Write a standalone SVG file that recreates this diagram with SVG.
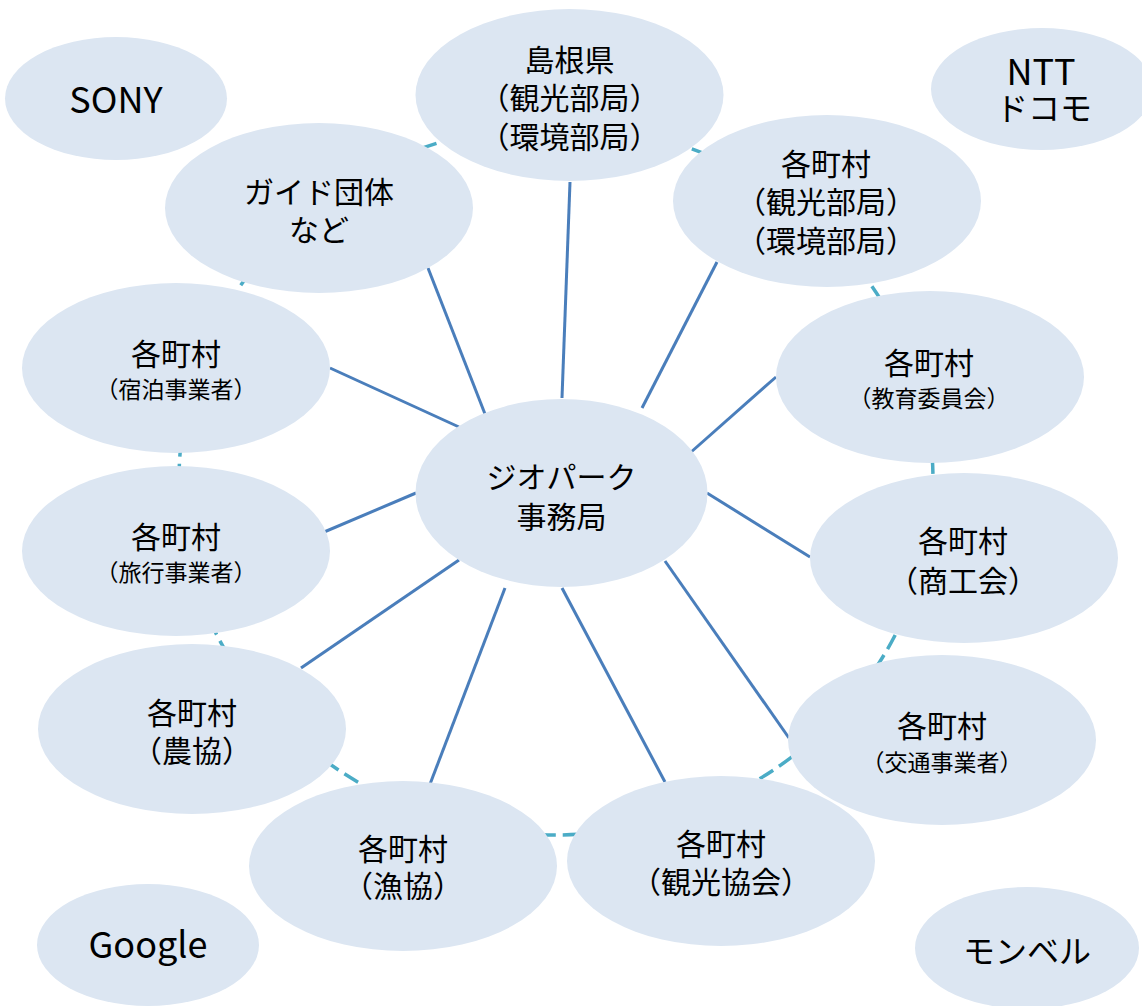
<svg xmlns="http://www.w3.org/2000/svg" width="1142" height="1006" viewBox="0 0 1142 1006">
<style>
.n{fill:#dce6f2;stroke:none}
.t{font-family:"Noto Sans CJK JP","Noto Sans",sans-serif;font-size:30px;fill:#000;text-anchor:middle}
.s{font-size:23px}
.l{font-size:36px}
.k{font-size:32px}
.ln{stroke:#4a7ebb;stroke-width:3;fill:none}
.ring{stroke:#4bacc6;stroke-width:3.5;fill:none;stroke-dasharray:16 7}
</style>
<rect width="1142" height="1006" fill="#fff"/>
<g id="connectors">
<ellipse class="ring" cx="556" cy="480" rx="377" ry="355"/>
<line class="ln" x1="562" y1="398" x2="570" y2="182"/>
<line class="ln" x1="485" y1="414" x2="428" y2="268"/>
<line class="ln" x1="459" y1="427" x2="330" y2="368"/>
<line class="ln" x1="642" y1="408" x2="717" y2="262"/>
<line class="ln" x1="690" y1="453" x2="776" y2="377"/>
<line class="ln" x1="416" y1="493" x2="310" y2="538"/>
<line class="ln" x1="707" y1="493" x2="810" y2="557"/>
<line class="ln" x1="459" y1="560" x2="301" y2="668"/>
<line class="ln" x1="505" y1="588" x2="427" y2="792"/>
<line class="ln" x1="562" y1="588" x2="665" y2="782"/>
<line class="ln" x1="665" y1="561" x2="789" y2="738"/>
</g>
<g id="sony"><ellipse class="n" cx="116" cy="98.5" rx="111" ry="61.5"/><text class="t l" x="116" y="113">SONY</text></g>
<g id="ntt"><ellipse class="n" cx="1042" cy="89" rx="111" ry="61"/><text class="t l" x="1041" y="85">NTT</text><text class="t k" x="1044" y="120">ドコモ</text></g>
<g id="google"><ellipse class="n" cx="148" cy="945" rx="111" ry="61"/><text class="t l" x="148" y="958">Google</text></g>
<g id="montbell"><ellipse class="n" cx="1027" cy="948" rx="112" ry="61"/><text class="t k" x="1027" y="963">モンベル</text></g>
<g id="shimane"><ellipse class="n" cx="569.5" cy="95" rx="154" ry="86"/><text class="t" x="569.5" y="71">島根県</text><text class="t" x="569.5" y="109">（観光部局）</text><text class="t" x="569.5" y="148">（環境部局）</text></g>
<g id="guide"><ellipse class="n" cx="319" cy="208" rx="154" ry="85"/><text class="t" x="319" y="203">ガイド団体</text><text class="t" x="319" y="241">など</text></g>
<g id="town-kanko"><ellipse class="n" cx="827" cy="201" rx="154" ry="86"/><text class="t" x="826" y="175">各町村</text><text class="t" x="826" y="213">（観光部局）</text><text class="t" x="826" y="252">（環境部局）</text></g>
<g id="town-shukuhaku"><ellipse class="n" cx="176" cy="368" rx="154" ry="85"/><text class="t" x="176" y="364.5">各町村</text><text class="t s" x="176" y="398">（宿泊事業者）</text></g>
<g id="town-kyoiku"><ellipse class="n" cx="930" cy="377" rx="154" ry="86"/><text class="t" x="929" y="373.5">各町村</text><text class="t s" x="929" y="407">（教育委員会）</text></g>
<g id="geopark"><ellipse class="n" cx="561.5" cy="493" rx="146" ry="94"/><text class="t" x="561.5" y="488">ジオパーク</text><text class="t" x="561.5" y="528">事務局</text></g>
<g id="town-ryoko"><ellipse class="n" cx="176" cy="551" rx="154" ry="85"/><text class="t" x="176" y="548">各町村</text><text class="t s" x="176" y="581">（旅行事業者）</text></g>
<g id="town-shoko"><ellipse class="n" cx="964" cy="558" rx="154" ry="85"/><text class="t" x="963" y="552">各町村</text><text class="t" x="963" y="592">（商工会）</text></g>
<g id="town-nokyo"><ellipse class="n" cx="192" cy="729" rx="154" ry="85"/><text class="t" x="192" y="723.5">各町村</text><text class="t" x="192" y="762">（農協）</text></g>
<g id="town-kotsu"><ellipse class="n" cx="942" cy="740" rx="154" ry="85"/><text class="t" x="942" y="737">各町村</text><text class="t s" x="942" y="771">（交通事業者）</text></g>
<g id="town-gyokyo"><ellipse class="n" cx="403" cy="866" rx="154" ry="85"/><text class="t" x="403" y="860">各町村</text><text class="t" x="403" y="897">（漁協）</text></g>
<g id="town-kankokyokai"><ellipse class="n" cx="721" cy="861" rx="154" ry="85"/><text class="t" x="721" y="855">各町村</text><text class="t" x="721" y="893">（観光協会）</text></g>
</svg>
